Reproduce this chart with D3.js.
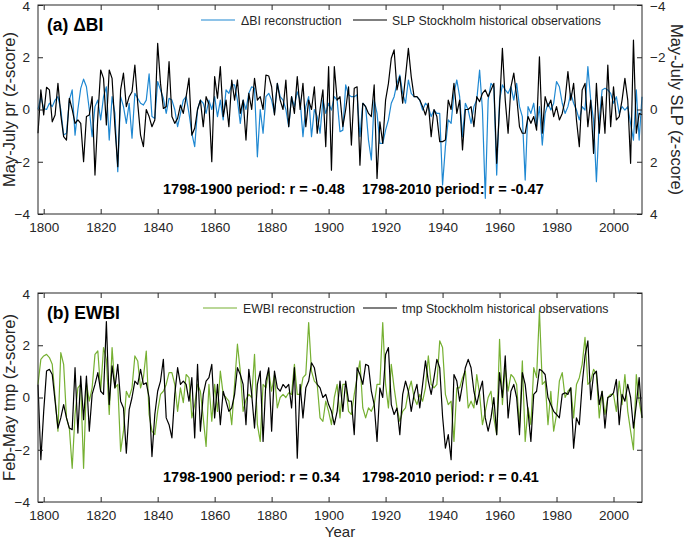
<!DOCTYPE html>
<html><head><meta charset="utf-8">
<script src="https://cdn.jsdelivr.net/npm/d3@7"></script>
<style>body{margin:0;background:#fff}svg text{font-family:"Liberation Sans",Arial,Helvetica,sans-serif}</style>
</head><body><svg id="c" width="685" height="542"></svg>
<script>
const startYear = 1798;
// Panel (a): ΔBI reconstruction (left axis) and Stockholm SLP (right axis, reversed)
const dbiRecon = [
0.0,0.49,0.04,0.0,0.24,0.11,0.36,0.49,0.0,-0.98,
-0.91,0.36,0.75,-0.98,0.0,0.81,1.16,0.87,0.0,-1.04,
0.11,0.36,-0.4,0.49,0.87,-1.17,0.49,-0.15,-2.38,0.49,
0.11,-0.53,0.24,-1.1,0.62,0.43,0.24,0.17,0.36,1.36,
-0.27,-0.34,1.07,0.75,0.43,-0.15,0.43,0.36,0.0,-0.66,
-0.15,0.36,0.49,-0.15,-0.91,-1.42,0.0,0.36,0.24,-0.15,
0.36,0.0,0.49,-0.27,0.36,-0.4,0.75,0.62,0.94,0.94,
0.36,-0.53,0.36,0.0,0.62,0.87,0.81,-1.81,0.0,-0.91,
0.49,0.62,0.36,-0.15,1.0,0.49,0.36,0.0,-0.66,0.49,
0.11,0.68,0.36,-1.04,0.11,0.49,-1.04,0.0,-0.27,-0.91,
0.36,-0.15,0.24,-0.02,0.49,0.36,-0.85,-0.79,0.94,0.56,
0.49,0.49,0.56,-1.04,0.24,0.11,-1.17,-1.93,0.36,-0.15,
-1.3,-1.3,-0.79,-0.4,0.24,0.49,1.0,1.32,0.62,0.24,
1.13,0.62,0.49,0.49,0.36,-0.02,0.24,0.11,-0.27,-0.02,
-0.15,-0.15,-2.89,-1.42,-0.4,-0.53,0.62,1.13,0.49,-1.04,
0.24,-0.02,-0.53,0.11,0.36,1.51,-0.02,-3.4,0.36,1.0,
0.87,-2.51,0.36,0.94,0.75,0.62,0.87,0.36,1.0,0.11,
-0.27,-2.7,0.11,-0.15,0.24,-0.66,0.11,-1.36,-0.15,0.24,
-0.02,0.24,1.07,0.87,0.24,-0.15,0.11,0.62,0.24,-0.02,
-0.4,0.11,-0.02,1.64,0.36,-0.4,-2.76,-0.4,0.75,0.81,
0.75,0.62,0.24,0.49,-0.15,0.11,-0.02,0.11,-0.53,-1.17,
0.75,-1.17,0.49];
const slpObs = [
0.91,-0.75,0.21,-0.85,-0.75,0.47,0.21,-1.0,0.21,1.04,
1.17,-0.43,0.0,0.53,0.4,0.53,2.0,0.27,0.21,-0.49,
2.51,0.27,-1.51,-1.19,0.59,-1.51,-1.19,0.66,2.19,-0.75,
-1.39,-0.11,-0.49,-0.68,-1.7,-0.24,0.98,1.42,0.0,0.27,
0.66,0.4,-2.53,-1.0,-0.04,-0.11,-1.83,0.27,0.53,0.34,
-0.17,0.15,-0.49,-1.2,0.98,0.72,0.0,-0.36,0.66,-0.49,
-0.2,2.0,-1.26,-0.43,-1.64,0.27,-0.36,0.66,-1.13,-0.36,
-1.13,0.15,-0.36,1.17,-0.62,0.0,-1.19,-0.36,-0.49,0.0,
-1.32,-1.28,-0.87,0.21,-1.0,-0.36,0.0,-1.13,0.66,-0.49,
0.15,-1.26,0.0,-1.0,0.66,-0.36,0.0,-0.87,0.91,0.0,
-0.75,1.42,-1.64,2.32,-1.64,-0.36,-0.49,0.66,0.0,-0.87,
1.36,-0.81,-0.87,2.13,-0.24,-0.11,0.15,0.27,-0.94,2.64,
0.47,1.3,-0.36,-1.0,-1.96,-2.28,-0.75,-1.26,-0.24,-1.26,
-2.34,-1.26,-0.49,-0.49,-0.36,-0.11,0.21,-0.24,1.04,0.0,
0.27,1.23,1.23,1.17,-0.36,0.0,-1.0,0.15,-0.36,1.55,
0.0,0.0,-0.11,0.66,-0.49,-0.3,-0.62,-0.75,-0.49,-0.75,
-1.0,2.06,-0.11,-2.34,-0.36,0.91,-0.87,-1.39,-0.49,0.66,
0.91,0.91,0.27,0.53,0.27,0.79,-2.02,0.91,-0.49,-0.11,
-0.36,0.27,-0.11,0.4,0.15,-0.36,-1.45,-0.36,-1.0,0.4,
1.42,-0.75,-1.0,0.66,-0.36,1.68,-1.0,0.91,-0.49,0.91,
-1.7,0.66,-0.87,0.4,0.27,-0.36,-1.19,-0.36,2.06,-2.66,
0.91,0.15,0.2];
// Panel (b): EWBI reconstruction and Stockholm temperature
const ewbiRecon = [
0.5,1.46,1.59,1.65,1.53,1.27,0.0,-1.29,1.72,1.27,
-0.78,-1.17,-2.71,-0.65,0.37,0.5,-2.71,0.56,-0.14,0.37,
1.65,1.78,0.24,1.91,1.46,-0.65,1.91,0.37,0.5,-2.06,
-1.29,0.24,0.0,0.37,1.59,1.4,0.37,0.76,1.78,-0.65,
-1.29,-1.42,-0.53,0.12,0.24,0.5,0.95,0.95,0.5,-0.53,
0.37,-0.2,0.88,0.76,-0.78,-0.27,0.5,0.24,-0.78,-1.87,
0.5,-0.91,0.5,-0.53,1.01,0.12,0.0,-0.14,-1.04,0.5,
2.04,1.01,-0.53,-0.08,0.12,0.0,1.65,-1.04,-1.68,0.5,
0.37,1.01,0.24,0.88,-0.4,0.0,0.12,0.0,0.18,0.12,
1.27,0.12,0.12,0.76,0.88,2.87,1.01,0.63,0.5,-0.78,
-0.91,-0.14,-0.53,-1.04,0.0,0.5,-0.78,0.5,0.5,-0.53,
-0.65,0.12,0.76,1.4,-0.4,-0.78,-0.4,-0.53,-0.27,0.5,
0.5,2.87,0.5,-0.4,1.27,0.37,-0.4,-0.91,-0.53,-0.4,
0.24,0.63,0.0,-0.27,0.12,-0.14,0.37,1.59,0.5,0.37,
0.5,2.17,1.91,0.12,-0.27,-0.14,-1.68,0.37,0.37,0.76,
1.01,-0.4,-0.14,-0.4,0.88,0.12,-1.04,-0.53,0.0,0.24,
-0.78,-1.42,2.23,-0.27,1.14,0.24,0.88,0.76,0.5,-1.17,
1.4,-1.68,-0.4,-1.04,1.14,0.76,3.32,0.5,0.63,-1.04,
0.24,-1.29,-0.65,0.63,0.95,0.0,0.24,0.37,-0.78,0.5,
0.76,1.27,2.3,0.5,0.63,1.08,0.88,-0.78,0.24,-0.65,
0.0,0.12,0.12,-0.53,0.63,-0.27,0.88,-0.53,-1.29,-2.0,
0.88,-0.14,-0.78];
const tmpObs = [
0.5,-2.38,-0.53,1.01,1.08,0.88,-0.14,-1.17,-0.78,-0.27,
-0.78,-1.17,-1.23,1.14,-1.36,0.82,-0.85,0.82,-1.29,0.12,
0.5,0.95,0.24,0.12,2.91,-0.27,1.21,0.37,1.27,-0.14,
-0.4,-2.13,-0.46,0.0,0.63,0.5,1.08,0.5,0.56,0.0,
-2.26,-0.65,0.24,0.63,1.46,-0.78,-1.04,-1.55,0.12,1.14,
0.5,0.63,0.5,-0.14,0.76,-1.55,1.27,-1.29,0.12,0.63,
0.76,1.27,-0.78,0.5,-1.04,0.24,-0.14,-0.53,-0.4,0.12,
1.14,0.88,0.5,-1.04,1.08,0.12,-1.17,0.5,1.01,-1.68,
0.63,1.14,-1.29,1.01,0.37,0.24,0.5,0.37,0.5,-0.4,
1.14,-2.32,0.5,-0.78,0.37,0.63,1.33,1.14,0.5,0.37,
0.0,0.12,-0.27,-0.53,-1.04,-0.53,0.63,-0.53,0.63,-0.14,
-0.14,-1.42,1.14,0.88,0.5,1.27,1.21,0.24,-0.27,-1.68,
0.37,0.0,1.65,1.91,-0.27,-0.65,-0.4,-1.42,0.12,0.63,
0.24,-0.53,0.12,0.5,-0.4,0.5,1.4,0.63,0.12,0.76,
1.46,1.14,-0.72,-1.94,-1.42,-2.38,0.88,0.63,-0.14,0.5,
1.14,1.46,1.14,0.24,-0.27,0.24,0.63,-0.78,-1.29,-0.78,
0.0,-1.42,0.95,0.0,1.59,-0.78,0.24,0.5,0.0,-1.42,
0.95,0.5,-0.53,-1.68,0.12,0.24,1.08,1.01,0.88,0.0,
-0.27,-0.53,-0.65,-0.78,0.12,0.18,0.12,0.37,-1.94,-0.78,
-1.04,0.5,1.59,2.17,-0.08,0.88,1.01,-0.27,0.24,-1.17,
0.0,0.05,0.18,0.69,-1.04,0.12,-0.14,0.5,0.0,-1.17,
-0.27,0.76,-0.78];
const xTickYears = [1800,1820,1840,1860,1880,1900,1920,1940,1960,1980,2000];
const yTickVals = [-4,-2,0,2,4];
const xDomain = [1798, 2010];
const yDomain = [-4, 4];

const svg = d3.select("#c");
const L = 38, R = 642;
const x = d3.scaleLinear().domain(xDomain).range([L, R]);
const ink = "#262626";

function drawPanel(o) {
  const y = d3.scaleLinear().domain(yDomain).range([o.bottom, o.top]);
  const g = svg.append("g");
  const lineL = d3.line().x((d, i) => x(startYear + i)).y(d => y(d));
  g.append("path").datum(o.recon).attr("d", lineL)
    .attr("fill", "none").attr("stroke", o.color).attr("stroke-width", 1.2).attr("stroke-linejoin", "round");
  const yR = o.reverseRight ? d3.scaleLinear().domain(yDomain).range([o.top, o.bottom]) : y;
  const lineR = d3.line().x((d, i) => x(startYear + i)).y(d => yR(d));
  g.append("path").datum(o.obs).attr("d", lineR)
    .attr("fill", "none").attr("stroke", "#000").attr("stroke-width", 1.2).attr("stroke-linejoin", "round");
  const fs = "13.5px";
  const ax = (sel) => { sel.select(".domain").remove(); sel.selectAll("line").attr("stroke", ink); sel.selectAll("text").attr("fill", ink).style("font-size", fs); };
  g.append("g").attr("transform", `translate(0,${o.bottom})`)
    .call(d3.axisBottom(x).tickValues(xTickYears).tickFormat(d3.format("d")).tickSizeInner(-5).tickSizeOuter(0).tickPadding(8)).call(ax);
  g.append("g").attr("transform", `translate(0,${o.top})`)
    .call(d3.axisTop(x).tickValues(xTickYears).tickFormat("").tickSizeInner(-5).tickSizeOuter(0)).call(ax);
  const la = g.append("g").attr("transform", `translate(${L},0)`)
    .call(d3.axisLeft(y).tickValues(yTickVals).tickSizeInner(-5).tickSizeOuter(0).tickPadding(8)).call(ax);
  la.selectAll(".tick").filter(d => d === 4).select("text").attr("dy", "0.38em");
  const rightAxis = d3.axisRight(yR).tickValues(yTickVals).tickSizeInner(-5).tickSizeOuter(0);
  if (o.reverseRight) rightAxis.tickPadding(8); else rightAxis.tickFormat("");
  const ra = g.append("g").attr("transform", `translate(${R},0)`).call(rightAxis).call(ax);
  ra.selectAll(".tick").filter(d => d === -4).select("text").attr("dy", "0.38em");
  g.append("rect").attr("x", L).attr("y", o.top).attr("width", R - L).attr("height", o.bottom - o.top)
    .attr("fill", "none").attr("stroke", ink).attr("stroke-width", 1);
  const cy = (o.top + o.bottom) / 2;
  g.append("text").attr("transform", `translate(15,${cy}) rotate(-90)`).attr("text-anchor", "middle")
    .style("font-size", "16.5px").attr("fill", ink).text(o.ylabel);
  if (o.ylabelRight) {
    g.append("text").attr("transform", `translate(671,${cy}) rotate(90)`).attr("text-anchor", "middle")
      .style("font-size", "16.5px").attr("fill", ink).text(o.ylabelRight);
  }
  g.append("text").attr("x", 47).attr("y", o.top + 26).style("font-size", "17.5px").style("font-weight", "bold")
    .attr("fill", "#000").text(o.title);
  const ly = o.top + 15;
  g.append("line").attr("x1", o.leg1[0]).attr("x2", o.leg1[0] + 34).attr("y1", ly).attr("y2", ly).attr("stroke", o.color).attr("stroke-width", 1.2);
  g.append("text").attr("x", o.leg1[0] + 40).attr("y", ly + 4.5).style("font-size", "12.3px").attr("fill", ink).text(o.leg1[1]);
  g.append("line").attr("x1", o.leg2[0]).attr("x2", o.leg2[0] + 34).attr("y1", ly).attr("y2", ly).attr("stroke", "#000").attr("stroke-width", 1.2);
  g.append("text").attr("x", o.leg2[0] + 39).attr("y", ly + 4.5).style("font-size", "12.3px").attr("fill", ink).text(o.leg2[1]);
  g.append("text").attr("x", 163).attr("y", o.top + 189).style("font-size", "14.5px").style("font-weight", "bold").attr("fill", "#000").text(o.r1);
  g.append("text").attr("x", 362).attr("y", o.top + 189).style("font-size", "14.5px").style("font-weight", "bold").attr("fill", "#000").text(o.r2);
}

drawPanel({top: 5, bottom: 214, recon: dbiRecon, obs: slpObs, color: "#1f88d2", reverseRight: true,
  ylabel: "May-July pr (z-score)", ylabelRight: "May-July SLP (z-score)", title: "(a) ΔBI",
  leg1: [201, "ΔBI reconstruction"], leg2: [353, "SLP Stockholm historical observations"],
  r1: "1798-1900 period: r = -0.48", r2: "1798-2010 period: r = -0.47"});
drawPanel({top: 293, bottom: 502, recon: ewbiRecon, obs: tmpObs, color: "#76b032", reverseRight: false,
  ylabel: "Feb-May tmp (z-score)", title: "(b) EWBI",
  leg1: [203, "EWBI reconstruction"], leg2: [363, "tmp Stockholm historical observations"],
  r1: "1798-1900 period: r = 0.34", r2: "1798-2010 period: r = 0.41"});
svg.append("text").attr("x", 340).attr("y", 537).attr("text-anchor", "middle").style("font-size", "15px").attr("fill", ink).text("Year");
</script>
</body></html>
